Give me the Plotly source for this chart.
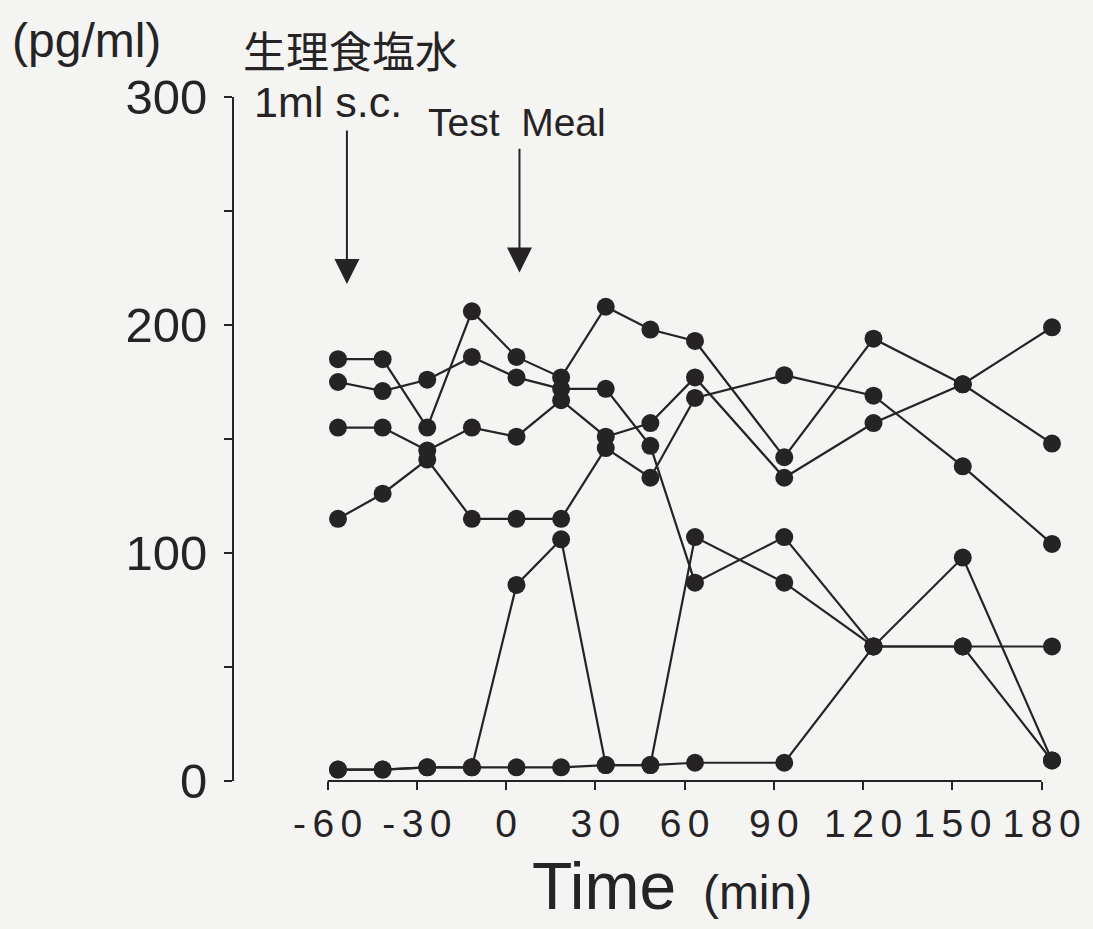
import plotly.graph_objects as go

# ---- data ----
times = [-60, -45, -30, -15, 0, 15, 30, 45, 60, 90, 120, 150, 180]
subject_1 = [185, 185, 155, 206, 186, 177, 208, 198, 193, 142, 194, 174, 148]
subject_2 = [175, 171, 176, 186, 177, 172, 172, 147, 87, 107, 59, 98, 9]
subject_3 = [155, 155, 145, 155, 151, 167, 151, 157, 177, 133, 157, 174, 199]
subject_4 = [115, 126, 141, 115, 115, 115, 146, 133, 168, 178, 169, 138, 104]
subject_5 = [5, 5, 6, 6, 86, 106, 7, 7, 107, 87, 59, 59, 59]
subject_6 = [5, 5, 6, 6, 6, 6, 7, 7, 8, 8, 59, 59, 9]

x_tick_values = [-60, -30, 0, 30, 60, 90, 120, 150, 180]
x_tick_labels = ["-60", "-30", "0", "30", "60", "90", "120", "150", "180"]
y_tick_values = [0, 50, 100, 150, 200, 250, 300]
y_tick_labels = ["0", "", "100", "", "200", "", "300"]

arrow_x = [-57, 1]          # time position of the two event arrows
arrow_tip = [218, 223]      # arrow tip (pg/ml)
arrow_tail = [286, 278]     # arrow tail (pg/ml)

series = [subject_1, subject_2, subject_3, subject_4, subject_5, subject_6]

# ---- layout geometry ----
W, H = 1093, 929
L, R, T, B = 234, 1075, 97, 781
TICK_SHIFT = -3.5   # the printed axis ticks sit slightly left of the sample points

ink = "#262324"
bg = "#f4f4f3"
font_latin = "Liberation Sans, Arial, Helvetica, sans-serif"
font_cjk = "Noto Sans CJK JP, Noto Sans CJK SC, sans-serif"


def px_x(px):
    return (px - L) / (R - L)


def px_y(py):
    return (B - py) / (B - T)


SP = "\u2006"
spaced_labels = [SP.join(list(s)) for s in x_tick_labels]
shifted_ticks = [v + TICK_SHIFT for v in x_tick_values]

fig = go.Figure()
for s in series:
    fig.add_trace(go.Scatter(
        x=times, y=s, mode="lines+markers",
        line=dict(color=ink, width=2.2),
        marker=dict(color=ink, size=18, line=dict(width=0)),
        cliponaxis=False, showlegend=False, hoverinfo="skip",
    ))

# x-axis baseline only between first and last tick
fig.add_shape(type="line", xref="x", yref="paper",
              x0=shifted_ticks[0], x1=shifted_ticks[-1], y0=0, y1=0,
              line=dict(color=ink, width=2), layer="below")

annotations = [
    dict(text="(pg/ml)", x=px_x(10), y=px_y(41), xanchor="left", yanchor="middle",
         font=dict(family=font_latin, size=48, color=ink)),
    dict(text="生理食塩水", x=px_x(241), y=px_y(49), xanchor="left", yanchor="middle",
         font=dict(family=font_cjk, size=43, color=ink)),
    dict(text="1ml s.c.", x=px_x(252), y=px_y(102), xanchor="left", yanchor="middle",
         font=dict(family=font_latin, size=43, color=ink)),
    dict(text="Test\u00a0 Meal", x=px_x(426), y=px_y(122), xanchor="left", yanchor="middle",
         font=dict(family=font_latin, size=39, color=ink)),
    dict(text="Time<span style='font-size:48px'>\u00a0 (min)</span>", x=px_x(530), y=px_y(886),
         xanchor="left", yanchor="middle",
         font=dict(family=font_latin, size=66, color=ink)),
]
for a in annotations:
    a.update(xref="paper", yref="paper", showarrow=False)

for xa, tip, tail in zip(arrow_x, arrow_tip, arrow_tail):
    annotations.append(dict(
        x=xa, y=tip, ax=xa, ay=tail, xref="x", yref="y", axref="x", ayref="y",
        text="", showarrow=True, arrowhead=2, arrowsize=2.5, arrowwidth=2,
        arrowcolor=ink,
    ))

x_left = times[0] - (338 - L) / 2.975
x_right = times[-1] + (R - 1052) / 2.975

fig.update_layout(
    width=W, height=H, autosize=False,
    margin=dict(l=L, r=W - R, t=T, b=H - B, pad=0),
    paper_bgcolor=bg, plot_bgcolor=bg,
    annotations=annotations,
    xaxis=dict(
        range=[x_left, x_right], showgrid=False, zeroline=False, showline=False,
        tickmode="array", tickvals=shifted_ticks, ticktext=spaced_labels,
        ticks="outside", ticklen=8, tickwidth=2, tickcolor=ink,
        tickfont=dict(family=font_latin, size=39, color=ink),
        ticklabelstandoff=0,
    ),
    yaxis=dict(
        range=[0, 300], showgrid=False, zeroline=False, showline=True,
        linecolor=ink, linewidth=2,
        tickmode="array", tickvals=y_tick_values, ticktext=y_tick_labels,
        ticks="outside", ticklen=8, tickwidth=2, tickcolor=ink,
        tickfont=dict(family=font_latin, size=49, color=ink),
        ticklabelstandoff=7,
    ),
)

fig.write_html("out.html")
